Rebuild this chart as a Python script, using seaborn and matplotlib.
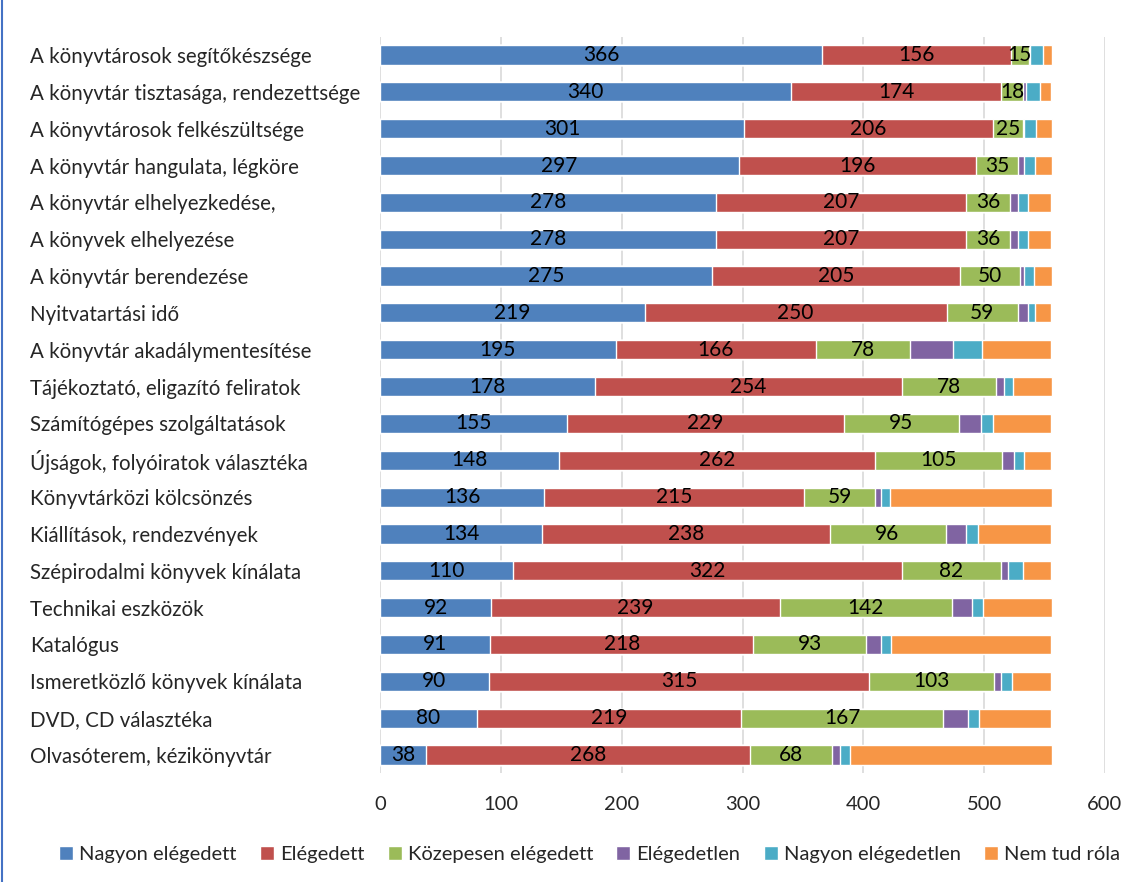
import numpy as np
import matplotlib
matplotlib.use("Agg")
import matplotlib.pyplot as plt
import seaborn as sns
from matplotlib.patches import Patch
from matplotlib.lines import Line2D

categories = [
    "A könyvtárosok segítőkészsége",
    "A könyvtár tisztasága, rendezettsége",
    "A könyvtárosok felkészültsége",
    "A könyvtár hangulata, légköre",
    "A könyvtár elhelyezkedése,",
    "A könyvek elhelyezése",
    "A könyvtár berendezése",
    "Nyitvatartási idő",
    "A könyvtár akadálymentesítése",
    "Tájékoztató, eligazító feliratok",
    "Számítógépes szolgáltatások",
    "Újságok, folyóiratok választéka",
    "Könyvtárközi kölcsönzés",
    "Kiállítások, rendezvények",
    "Szépirodalmi könyvek kínálata",
    "Technikai eszközök",
    "Katalógus",
    "Ismeretközlő könyvek kínálata",
    "DVD, CD választéka",
    "Olvasóterem, kézikönyvtár",
]

nagyon_elegedett = [366, 340, 301, 297, 278, 278, 275, 219, 195, 178, 155, 148, 136, 134, 110, 92, 91, 90, 80, 38]
elegedett = [156, 174, 206, 196, 207, 207, 205, 250, 166, 254, 229, 262, 215, 238, 322, 239, 218, 315, 219, 268]
kozepesen = [15, 18, 25, 35, 36, 36, 50, 59, 78, 78, 95, 105, 59, 96, 82, 142, 93, 103, 167, 68]
elegedetlen = [1, 3, 1, 5, 7, 7, 3, 8, 35, 6, 18, 10, 5, 17, 6, 17, 13, 6, 21, 7]
nagyon_elegedetlen = [11, 11, 10, 9, 8, 8, 8, 6, 24, 8, 10, 8, 7, 10, 12, 9, 8, 9, 9, 8]
nem_tud = [7, 9, 13, 14, 19, 19, 15, 13, 57, 32, 48, 22, 134, 60, 23, 57, 132, 32, 59, 167]

series = ["Nagyon elégedett", "Elégedett", "Közepesen elégedett",
          "Elégedetlen", "Nagyon elégedetlen", "Nem tud róla"]
values = [nagyon_elegedett, elegedett, kozepesen, elegedetlen, nagyon_elegedetlen, nem_tud]
colors = ["#4F81BD", "#C0504D", "#9BBB59", "#8064A2", "#4BACC6", "#F79646"]
labelled = 3

sns.set_theme(style="white")
plt.rcParams["font.family"] = ["Lato", "DejaVu Sans"]

fig = plt.figure(figsize=(11.34, 8.82), dpi=100)
ax = fig.add_axes([380 / 1134, 0.1231, 725 / 1134, 0.8354])

cum = np.cumsum(np.array(values), axis=0)

# stack by drawing cumulative totals from the back to the front
for i in range(len(series) - 1, -1, -1):
    sns.barplot(x=cum[i], y=categories, color=colors[i], orient="y",
                width=0.52, saturation=1, ax=ax, zorder=3)

for i in range(labelled):
    for j, v in enumerate(values[i]):
        ax.text(cum[i][j] - v / 2, j, str(v), ha="center", va="center",
                fontsize=15, color="black", zorder=4)

ax.set_xlim(0, 600)
ax.set_xticks(range(0, 601, 100))
ax.xaxis.grid(True, color="#D9D9D9", linewidth=1.2, zorder=0)
ax.set_axisbelow(True)
for s in ax.spines.values():
    s.set_visible(False)
ax.set_xlabel("")
ax.set_ylabel("")
ax.tick_params(axis="x", length=0, pad=16, labelsize=14.5)
ax.tick_params(axis="y", length=0, pad=252, labelsize=14.8)
for t in ax.get_yticklabels():
    t.set_ha("left")

handles = [Patch(facecolor=c, label=s) for s, c in zip(series, colors)]
fig.legend(handles=handles, loc="center", bbox_to_anchor=(0.52, 0.031), ncol=6,
           frameon=False, fontsize=14.5, handlelength=0.7, handleheight=0.7,
           handletextpad=0.3, columnspacing=1.15)

fig.add_artist(Line2D([0.002, 0.002], [0, 1], color="#4472C4", linewidth=1.5))

fig.savefig("out.png", dpi=100)
